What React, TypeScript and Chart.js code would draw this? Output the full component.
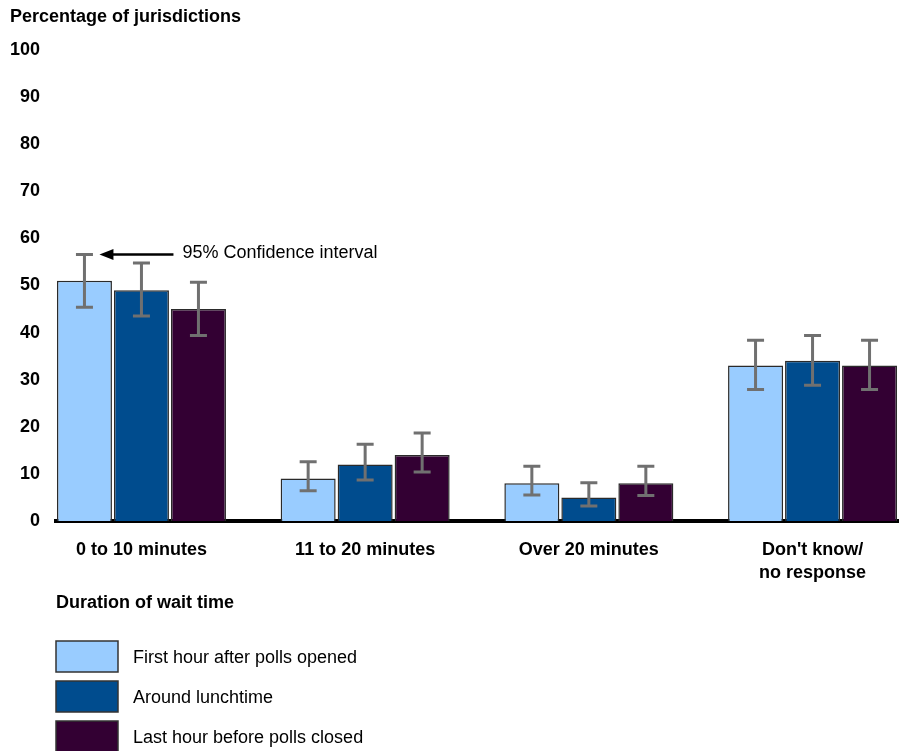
import React, { useEffect, useRef } from "react";
import { Chart, registerables } from "chart.js";

Chart.register(...registerables);

const categories = ["0 to 10 minutes", "11 to 20 minutes", "Over 20 minutes", "Don't know/\nno response"];
const seriesLabels = ["First hour after polls opened", "Around lunchtime", "Last hour before polls closed"];
const firstHour = [51, 9, 8, 33];
const lunchtime = [49, 12, 5, 34];
const lastHour = [45, 14, 8, 33];
const firstHourLow = [45.4, 6.4, 5.5, 27.9];
const firstHourHigh = [56.6, 12.6, 11.6, 38.4];
const lunchtimeLow = [43.5, 8.7, 3.2, 28.8];
const lunchtimeHigh = [54.8, 16.3, 8.1, 39.4];
const lastHourLow = [39.4, 10.4, 5.4, 27.9];
const lastHourHigh = [50.7, 18.7, 11.6, 38.4];
const yTicks = [0, 10, 20, 30, 40, 50, 60, 70, 80, 90, 100];
const colors = ["#99CCFF", "#004C8E", "#330033"];

const FONT = "'Liberation Sans', Arial, sans-serif";

const seriesValues = [firstHour, lunchtime, lastHour];
const seriesLow = [firstHourLow, lunchtimeLow, lastHourLow];
const seriesHigh = [firstHourHigh, lunchtimeHigh, lastHourHigh];

const errorBarPlugin = {
  id: "errorBars",
  afterDatasetsDraw(chart: any) {
    const ctx = chart.ctx;
    const yScale = chart.scales.y;
    ctx.save();
    ctx.strokeStyle = "#707070";
    ctx.lineWidth = 3;
    chart.data.datasets.forEach((ds: any, di: number) => {
      const meta = chart.getDatasetMeta(di);
      meta.data.forEach((bar: any, i: number) => {
        const x = bar.x;
        const yl = yScale.getPixelForValue(ds.errLow[i]);
        const yh = yScale.getPixelForValue(ds.errHigh[i]);
        ctx.beginPath();
        ctx.moveTo(x, yl);
        ctx.lineTo(x, yh);
        ctx.moveTo(x - 8.5, yl);
        ctx.lineTo(x + 8.5, yl);
        ctx.moveTo(x - 8.5, yh);
        ctx.lineTo(x + 8.5, yh);
        ctx.stroke();
      });
    });
    ctx.restore();
  },
};

const decorPlugin = {
  id: "decor",
  afterDraw(chart: any) {
    const ctx = chart.ctx;
    const yScale = chart.scales.y;
    ctx.save();
    // axis title
    ctx.fillStyle = "#000";
    ctx.textBaseline = "middle";
    ctx.textAlign = "left";
    ctx.font = `bold 18px ${FONT}`;
    ctx.fillText("Percentage of jurisdictions", 10, 17);
    ctx.fillText("Duration of wait time", 56, 603);

    // annotation arrow
    const bar0 = chart.getDatasetMeta(0).data[0];
    const tipX = bar0.x + 15;
    const tipY = yScale.getPixelForValue(chart.data.datasets[0].errHigh[0]);
    ctx.strokeStyle = "#000";
    ctx.lineWidth = 2.5;
    ctx.beginPath();
    ctx.moveTo(tipX + 10, tipY);
    ctx.lineTo(tipX + 74, tipY);
    ctx.stroke();
    ctx.beginPath();
    ctx.moveTo(tipX, tipY);
    ctx.lineTo(tipX + 14, tipY - 5.5);
    ctx.lineTo(tipX + 14, tipY + 5.5);
    ctx.closePath();
    ctx.fill();
    ctx.font = `18px ${FONT}`;
    ctx.fillText("95% Confidence interval", tipX + 83, tipY - 1);

    // legend
    chart.data.datasets.forEach((ds: any, i: number) => {
      const top = 641 + i * 40;
      ctx.fillStyle = ds.backgroundColor;
      ctx.fillRect(56, top, 62, 31);
      ctx.strokeStyle = "#333";
      ctx.lineWidth = 1.5;
      ctx.strokeRect(56, top, 62, 31);
      ctx.fillStyle = "#000";
      ctx.font = `18px ${FONT}`;
      ctx.fillText(ds.label, 133, top + 17);
    });
    ctx.restore();
  },
};

export default function App() {
  const ref = useRef<HTMLCanvasElement>(null);
  useEffect(() => {
    if (!ref.current) return;
    const datasets = seriesLabels.map((label, si) => ({
      label,
      data: seriesValues[si].map((v, i) => ({ x: i, y: v })),
      errLow: seriesLow[si],
      errHigh: seriesHigh[si],
      backgroundColor: colors[si],
      borderColor: "#2a2a2a",
      borderWidth: 1.5,
      categoryPercentage: 0.7644,
      barPercentage: 0.965,
    }));
    const chart = new Chart(ref.current, {
      type: "bar",
      data: { datasets: datasets as any },
      options: {
        animation: false,
        responsive: false,
        maintainAspectRatio: false,
        layout: { padding: { top: 50, left: 0, right: 4, bottom: 0 } },
        plugins: { legend: { display: false }, tooltip: { enabled: false } },
        scales: {
          x: {
            type: "linear",
            offset: false,
            min: -0.382,
            max: 3.382,
            z: 1,
            grid: { display: false, drawTicks: false },
            border: { display: true, color: "#000", width: 4 },
            afterBuildTicks: (scale: any) => {
              scale.ticks = categories.map((_, i) => ({ value: i }));
            },
            afterFit: (scale: any) => {
              scale.height = 230;
            },
            ticks: {
              autoSkip: false,
              maxRotation: 0,
              minRotation: 0,
              padding: 18,
              color: "#000",
              font: { family: FONT, size: 18, weight: "bold", lineHeight: 1.25 },
              callback: (v: any) => {
                const c = categories[Math.round(v)];
                return c ? c.split("\n") : "";
              },
            },
          },
          y: {
            min: 0,
            max: 100,
            grid: { display: false, drawTicks: false },
            border: { display: false },
            afterBuildTicks: (scale: any) => {
              scale.ticks = yTicks.map((v) => ({ value: v }));
            },
            afterFit: (scale: any) => {
              scale.width = 56;
            },
            ticks: {
              padding: 16,
              color: "#000",
              font: { family: FONT, size: 18, weight: "bold" },
            },
          },
        },
      },
      plugins: [errorBarPlugin, decorPlugin],
    });
    return () => chart.destroy();
  }, []);
  return (
    <canvas
      ref={ref}
      width={902}
      height={751}
      style={{ position: "absolute", left: 0, top: 0, width: 902, height: 751 }}
    />
  );
}
